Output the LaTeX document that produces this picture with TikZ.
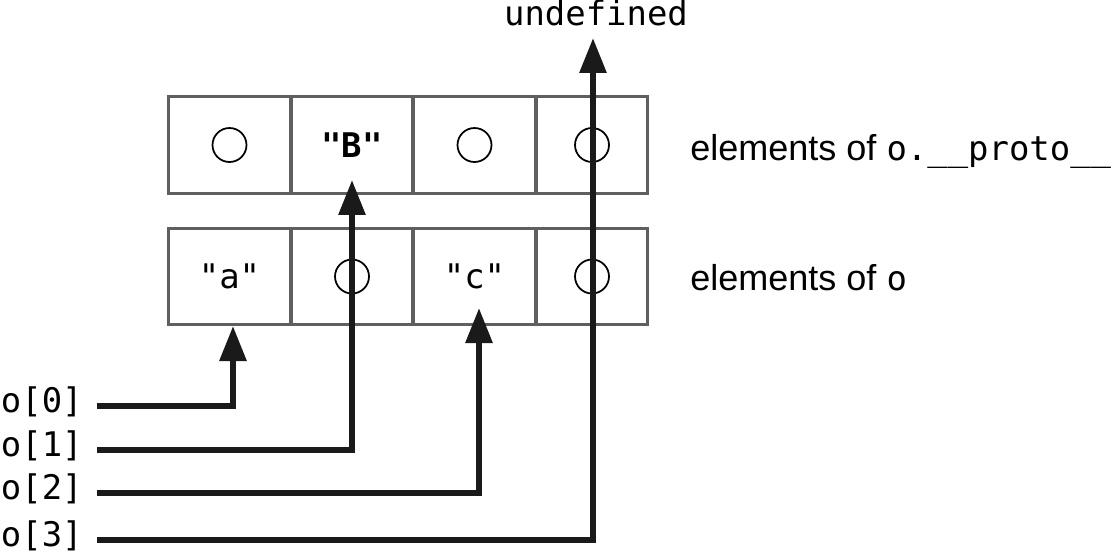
\documentclass[tikz,border=0pt]{standalone}
\usepackage{fontspec}
\setmainfont{Liberation Sans}
\setmonofont{DejaVu Sans Mono}
\usetikzlibrary{arrows.meta}
\definecolor{boxgray}{HTML}{5F5F5F}
\definecolor{ink}{HTML}{1A1A1A}
\newcommand{\monofont}{\fontsize{19.3pt}{22pt}\selectfont\ttfamily}
\begin{document}
\begin{tikzpicture}[x=0.02cm,y=-0.02cm,
  cell/.style={draw=boxgray,line width=0.06cm,inner sep=0,outer sep=0,font=\monofont},
  toprow/.style={cell,minimum height=1.96cm},
  botrow/.style={cell,minimum height=1.94cm},
  hole/.style={circle,draw=black,line width=0.035cm,minimum size=0.68cm,inner sep=0},
  mono/.style={font=\monofont},
  sans/.style={font=\fontsize{20.5pt}{24pt}\selectfont},
  lab/.style={mono,anchor=east,inner sep=0},
  arr/.style={draw=ink,line width=0.12cm,shorten <=0.28cm,-{Triangle[length=0.7cm,width=0.52cm]}},
]
\useasboundingbox (0,0) rectangle (1116,555);

% top row: elements of o.__proto__
\node[toprow,minimum width=2.46cm] (p0) at (229.5,145) {};
\node[toprow,minimum width=2.44cm] (p1) at (352,145) {\bfseries"B"};
\node[toprow,minimum width=2.46cm] (p2) at (474.5,145) {};
\node[toprow,minimum width=2.24cm] (p3) at (592,145) {};
\node[hole] (hp0) at (p0) {};
\node[hole] (hp2) at (p2) {};
\node[hole] (hp3) at (p3) {};

% bottom row: elements of o
\node[botrow,minimum width=2.46cm] (b0) at (229.5,276.5) {"a"};
\node[botrow,minimum width=2.44cm] (b1) at (352,276.5) {};
\node[botrow,minimum width=2.46cm] (b2) at (474.5,276.5) {"c"};
\node[botrow,minimum width=2.24cm] (b3) at (592,276.5) {};
\node[hole] (hb1) at (b1) {};
\node[hole] (hb3) at (b3) {};

% right labels
\node[sans,anchor=base west,inner sep=0] (lproto) at (690,160) {elements of {\monofont o.\_\_proto\_\_}};
\node[sans,anchor=base west,inner sep=0] (lo) at (690,290) {elements of {\monofont o}};

% undefined
\node[mono] (undef) at (596,13) {undefined};

% left labels
\node[lab] (l0) at (83,402) {o[0]};
\node[lab] (l1) at (83,446) {o[1]};
\node[lab] (l2) at (83,489) {o[2]};
\node[lab] (l3) at (83,536) {o[3]};

% arrow targets
\coordinate (t0) at (233,326);
\coordinate (t1) at (352,180);
\coordinate (t2) at (479,308);
\coordinate (t3) at (593,38);

\draw[arr] ([yshift=-0.08cm]l0.east) -| (t0);
\draw[arr] ([yshift=-0.08cm]l1.east) -| (t1);
\draw[arr] ([yshift=-0.08cm]l2.east) -| (t2);
\draw[arr] ([yshift=-0.08cm]l3.east) -| (t3);
\end{tikzpicture}
\end{document}
